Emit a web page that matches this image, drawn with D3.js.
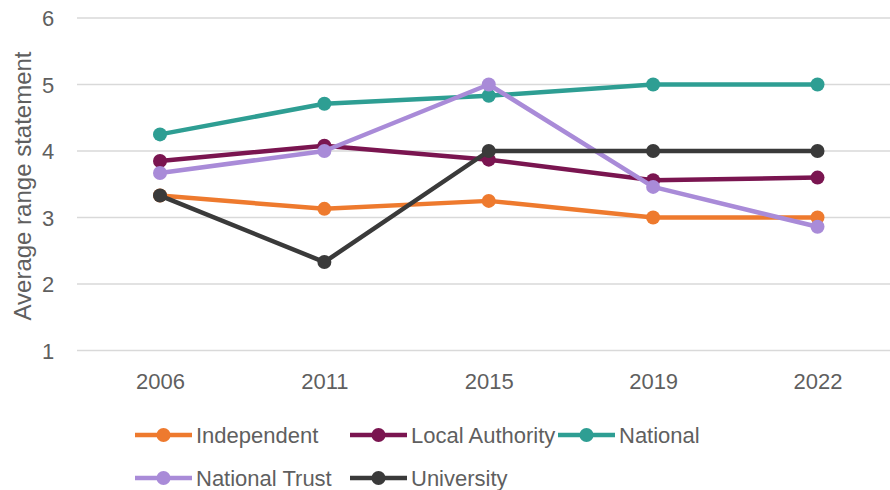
<!DOCTYPE html>
<html><head><meta charset="utf-8">
<script src="https://cdn.jsdelivr.net/npm/d3@7"></script>
<style>body{margin:0;background:#fff;}svg{display:block;}</style>
</head><body>
<svg id="chart" width="890" height="490"></svg>
<script>
const years = ["2006","2011","2015","2019","2022"];
const seriesNames = ["Independent","Local Authority","National","National Trust","University"];
const independent = [3.33, 3.13, 3.25, 3.0, 3.0];
const localAuthority = [3.85, 4.08, 3.87, 3.56, 3.6];
const national = [4.25, 4.71, 4.83, 5.0, 5.0];
const nationalTrust = [3.67, 4.0, 5.0, 3.46, 2.86];
const university = [3.33, 2.33, 4.0, 4.0, 4.0];
const yTicks = [1,2,3,4,5,6];
const colors = ["#ee7a2e","#7a1550","#2e9e93","#a98bd8","#3a3a3a"];

const series = [independent, localAuthority, national, nationalTrust, university].map((v,i)=>({name:seriesNames[i], values:v, color:colors[i]}));

const svg = d3.select("#chart");
const font = "Liberation Sans, Arial, sans-serif";
const textColor = "#5f5f5f";
const x = d3.scalePoint().domain(years).range([160, 817.5]);
const y = d3.scaleLinear().domain([1,6]).range([350.5, 18]);

// gridlines
svg.append("g").selectAll("line").data(yTicks).join("line")
  .attr("x1", 77).attr("x2", 890)
  .attr("y1", d=>y(d)).attr("y2", d=>y(d))
  .attr("stroke", "#d9d9d9").attr("stroke-width", 1.5);

// y axis labels
const yAxis = d3.axisLeft(y).tickValues(yTicks).tickFormat(d3.format("d")).tickSize(0).tickPadding(0);
const yg = svg.append("g").attr("transform","translate(48,0)").call(yAxis);
yg.select(".domain").remove();
yg.selectAll("text").attr("font-family", font).attr("font-size", 22).attr("fill",textColor).attr("text-anchor","middle").attr("dy","0.36em");

// x axis labels
const xAxis = d3.axisBottom(x).tickSize(0).tickPadding(0);
const xg = svg.append("g").attr("transform","translate(0,381)").call(xAxis);
xg.select(".domain").remove();
xg.selectAll("text").attr("font-family", font).attr("font-size", 22).attr("fill",textColor).attr("y",0).attr("dy","0.36em");

// y title
svg.append("text").attr("transform","translate(22,186) rotate(-90)")
  .attr("text-anchor","middle").attr("dy","0.36em")
  .attr("font-family", font).attr("font-size", 24).attr("fill",textColor)
  .text("Average range statement");

const line = d3.line().x((d,i)=>x(years[i])).y(d=>y(d));
const g = svg.append("g");
series.forEach(s=>{
  g.append("path").attr("d", line(s.values)).attr("fill","none")
    .attr("stroke", s.color).attr("stroke-width", 4.5).attr("stroke-linejoin","round");
  g.selectAll(null).data(s.values).join("circle")
    .attr("cx",(d,i)=>x(years[i])).attr("cy", d=>y(d)).attr("r", 7).attr("fill", s.color);
});

// legend
const legendPos = [[135,435],[350,435],[558,435],[135,478],[350,478]];
series.forEach((s,i)=>{
  const [lx, ly] = legendPos[i];
  const lg = svg.append("g").attr("transform",`translate(${lx},${ly})`);
  lg.append("line").attr("x1",0).attr("x2",57).attr("y1",0).attr("y2",0)
    .attr("stroke", s.color).attr("stroke-width",4.5);
  lg.append("circle").attr("cx",28.5).attr("cy",0).attr("r",7).attr("fill",s.color);
  lg.append("text").attr("x",61).attr("y",0).attr("dy","0.36em")
    .attr("font-family", font).attr("font-size",22).attr("fill",textColor).text(s.name);
});
</script>
</body></html>
